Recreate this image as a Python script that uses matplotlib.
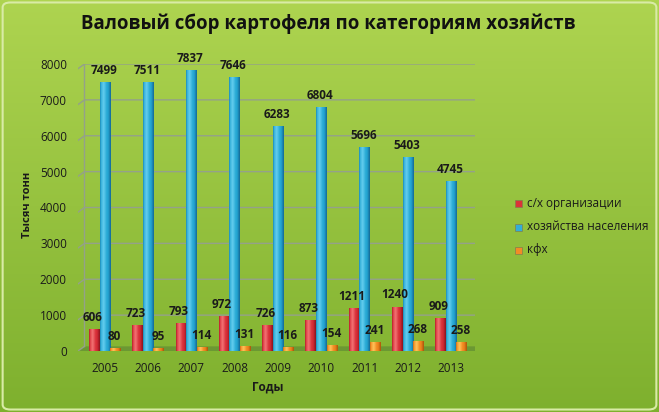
import numpy as np
import matplotlib
matplotlib.use("Agg")
import matplotlib.pyplot as plt
from matplotlib.patches import FancyBboxPatch, Polygon

years = ["2005", "2006", "2007", "2008", "2009", "2010", "2011", "2012", "2013"]
orgs = [606, 723, 793, 972, 726, 873, 1211, 1240, 909]
households = [7499, 7511, 7837, 7646, 6283, 6804, 5696, 5403, 4745]
farms = [80, 95, 114, 131, 116, 154, 241, 268, 258]
series_names = ["с/х организации", "хозяйства населения", "кфх"]

plt.rcParams['font.family'] = ['Open Sans', 'DejaVu Sans']

W, H = 659, 412
fig = plt.figure(figsize=(W / 100, H / 100), dpi=100)

# background gradient
bg = fig.add_axes([0, 0, 1, 1], zorder=0)
bg.set_axis_off()
t = np.linspace(0, 1, 256)[:, None]
top = np.array([174, 212, 80]) / 255
bot = np.array([126, 176, 46]) / 255
grad = top * (1 - t[..., None]) + bot * t[..., None]
grad = np.repeat(grad, 2, axis=1)
bg.imshow(grad, aspect='auto', extent=[0, 1, 0, 1], origin='upper')
bg.set_xlim(0, 1); bg.set_ylim(0, 1)
bg.add_patch(FancyBboxPatch((0.004, 0.006), 0.992, 0.988,
                            boxstyle="round,pad=0,rounding_size=0.012",
                            fill=False, ec=(0.85, 0.92, 0.65), lw=1.5))

left, right = 78 / W, 475 / W
bottom, topy = 1 - 351 / H, 1 - 64 / H
ax = fig.add_axes([left, bottom, right - left, topy - bottom], zorder=1)
ax.patch.set_alpha(0)

x = np.arange(len(years))
w = 0.245
x0l, x1l = -0.62, len(years) - 0.45

# floor
floor = Polygon([[x0l, 0], [x1l, 0], [x1l + 0.15, 130], [x0l + 0.15, 130]],
                closed=True, fc=(0.38, 0.55, 0.2), ec='none', alpha=0.7, zorder=1)
ax.add_patch(floor)

gc = (0.58, 0.63, 0.54)
for v in range(1000, 8001, 1000):
    ax.plot([x0l, x0l + 0.15, x1l + 0.1], [v - 130, v, v], color=gc, lw=1.0, zorder=1)
ax.plot([x0l + 0.15, x0l + 0.15], [130, 8000], color=gc, lw=1.0, zorder=1)
ax.plot([x0l, x0l + 0.15], [0, 130], color=gc, lw=1.0, zorder=1)

def cyl_grad(base, hi, dark):
    s = np.linspace(-1, 1, 64)
    f = np.clip(1 - np.abs(s + 0.35) * 1.6, 0, 1)
    base = np.array(base) / 255; hi = np.array(hi) / 255; dark = np.array(dark) / 255
    col = base[None, :] * (1 - f[:, None]) + hi[None, :] * f[:, None]
    g = np.clip((s - 0.45) / 0.55, 0, 1)[:, None]
    col = col * (1 - g) + dark[None, :] * g
    g2 = np.clip((-s - 0.8) / 0.2, 0, 1)[:, None]
    col = col * (1 - 0.5 * g2) + dark[None, :] * 0.5 * g2
    return col[None, :, :]

styles = [
    (orgs, -w, (215, 45, 55), (242, 115, 115), (140, 20, 30), (0.86, 0.2, 0.22)),
    (households, 0.0, (38, 168, 212), (100, 205, 238), (20, 105, 150), (0.2, 0.68, 0.85)),
    (farms, w, (240, 135, 30), (255, 195, 90), (170, 85, 10), (0.95, 0.55, 0.15)),
]
handles = []
for vals, off, base, hi, dark, legc in styles:
    bars = ax.bar(x + off, vals, width=w, color='none', zorder=3)
    img = cyl_grad(base, hi, dark)
    for b in bars:
        bx, by = b.get_x(), b.get_y()
        bw, bh = b.get_width(), b.get_height()
        im = ax.imshow(img, extent=[bx, bx + bw, by, by + bh], aspect='auto', zorder=3)
        im.set_clip_path(b)
    handles.append(legc)

ax.set_xlim(x0l, x1l)
ax.set_ylim(0, 8000)

lab = dict(ha='center', va='bottom', fontsize=8.5, fontweight='bold', color='#1a1a1a', zorder=5)
for i in range(len(years)):
    ax.text(x[i] - w - 0.05, orgs[i] + 140, str(orgs[i]), **lab)
    ax.text(x[i] - 0.03, households[i] + 140, str(households[i]), **lab)
    ax.text(x[i] + w - 0.02, farms[i] + 140, str(farms[i]), **lab)

ax.set_xticks(x)
ax.set_xticklabels(years, fontsize=8.5, color='#1a1a1a')
ax.set_yticks(range(0, 8001, 1000))
ax.set_yticklabels([str(v) for v in range(0, 8001, 1000)], fontsize=8.5, color='#1a1a1a')
ax.tick_params(length=0, pad=8)
for s in ax.spines.values():
    s.set_visible(False)

fig.text(268 / W, 1 - 387 / H, "Годы", ha='center', va='center', fontsize=8.5, fontweight='bold', color='#1a1a1a')
fig.text(28 / W, 1 - 205 / H, "Тысяч тонн", ha='center', va='center', rotation=90,
         fontsize=8, fontweight='bold', color='#1a1a1a')
fig.text(328 / W, 1 - 24 / H, "Валовый сбор картофеля по категориям хозяйств", ha='center', va='center',
         fontsize=13.4, fontweight='bold', color='#111111')

for k, (name, c) in enumerate(zip(series_names, handles)):
    yy = 1 - (203 + 23.5 * k) / H
    fig.patches.append(FancyBboxPatch((519 / W - 0.006, yy - 0.01), 0.011, 0.017,
                                      boxstyle="square,pad=0", fc=c, ec=(0.5, 0.5, 0.3), lw=0.5,
                                      transform=fig.transFigure, figure=fig, zorder=5))
    fig.text(527 / W, yy, name, ha='left', va='center', fontsize=8.5, color='#1a1a1a')

fig.savefig("out.png", dpi=100)
